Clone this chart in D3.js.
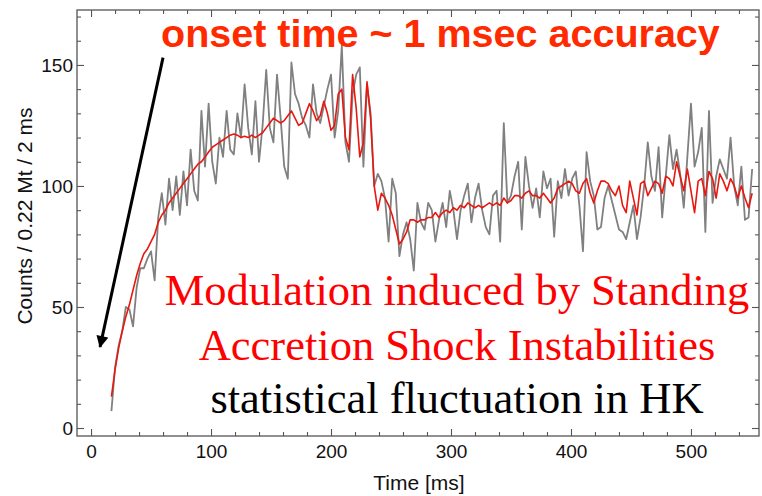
<!DOCTYPE html>
<html>
<head>
<meta charset="utf-8">
<script src="https://cdn.jsdelivr.net/npm/d3@7"></script>
<style>
body { margin: 0; background: #fff; }
</style>
</head>
<body>
<svg width="762" height="496"></svg>
<script>
// binned counts, first bin at 17 ms, one value every 3 ms
const binStart = 17;
const binWidth = 3;

const rawCounts = [
    7, 25, 34, 40, 50, 49, 42, 58, 66, 66,
    70, 73, 61, 87, 97, 84, 103, 90, 104, 88,
    106, 92, 115, 98, 94, 131, 108, 134, 110, 101,
    120, 112, 131, 115, 113, 130, 120, 142, 124, 113,
    135, 110, 125, 148, 124, 118, 146, 128, 108, 103,
    151, 138, 134, 128, 125, 120, 142, 130, 126, 133,
    140, 146, 120, 131, 158, 118, 110, 138, 146, 149,
    108, 142, 130, 100, 105, 102, 95, 77, 103, 97,
    71, 80, 85, 78, 65, 93, 85, 82, 93, 90,
    77, 86, 93, 83, 98, 90, 78, 90, 96, 101,
    85, 95, 101, 90, 83, 80, 96, 98, 77, 126,
    93, 96, 104, 110, 82, 112, 100, 91, 99, 87,
    106, 99, 103, 79, 102, 95, 107, 96, 103, 106,
    92, 73, 114, 102, 96, 82, 83, 95, 100, 94,
    88, 82, 81, 78, 85, 92, 78, 87, 100, 118,
    104, 98, 116, 87, 104, 121, 107, 115, 105, 91,
    112, 134, 108, 114, 124, 81, 131, 93, 104, 111,
    107, 103, 120, 100, 92, 108, 86, 87, 107
];

const modelCounts = [
    13, 24, 33, 40, 46, 51, 57, 63, 68, 72,
    74, 77, 80, 85, 88, 90, 93, 95, 97, 99,
    101, 103, 105, 107, 109, 110, 112, 114, 116, 117,
    118, 119, 120, 121, 121.5, 121, 120, 120.5, 120, 121,
    120, 121, 122, 124, 126, 128, 127, 126, 127, 129,
    131, 128, 125, 126, 130, 134, 131, 127, 129, 135,
    130, 123, 125, 138, 140, 120, 115, 146, 132, 112,
    118, 143, 128, 100, 90, 97, 95, 92, 88, 82,
    76, 78, 81, 86, 86, 85, 86, 86, 87, 87,
    89, 87, 89, 90, 89, 91, 90, 92, 91, 93,
    92, 91, 92, 91, 92, 93, 92, 93, 92, 95,
    93, 94, 96, 96, 95, 97, 98, 96, 96, 95,
    97, 95, 93, 95, 99, 100, 101, 102, 101, 98,
    97, 101, 103, 97, 93, 98, 102, 102, 101, 98,
    96, 100, 92, 89, 102, 95, 88, 101, 102, 96,
    99, 102, 101, 97, 104, 103, 100, 110, 104, 98,
    107, 98, 89, 102, 103, 96, 106, 103, 95, 105,
    102, 98, 103, 100, 95, 100, 95, 91, 97
];

const xMajorTicks = [0, 100, 200, 300, 400, 500];
const xMinorTicks = [20, 40, 60, 80, 120, 140, 160, 180, 220, 240, 260, 280,
    320, 340, 360, 380, 420, 440, 460, 480, 520, 540];
const yMajorTicks = [0, 50, 100, 150];
const yMinorTicks = [10, 20, 30, 40, 60, 70, 80, 90, 110, 120, 130, 140, 160, 170];

const svg = d3.select('svg');
const width = +svg.attr('width');
const height = +svg.attr('height');
const margin = {top: 10, right: 3, bottom: 60, left: 77};
const innerWidth = width - margin.left - margin.right;
const innerHeight = height - margin.top - margin.bottom;

const sansFont = "'Liberation Sans', Arial, sans-serif";
const serifFont = "'Liberation Serif', 'Times New Roman', serif";
const frameColor = '#555';

const xScale = d3.scaleLinear()
    .domain([-11.7, 556.7])
    .range([0, innerWidth]);

const yScale = d3.scaleLinear()
    .domain([-3.3, 172.7])
    .range([innerHeight, 0]);

const g = svg.append('g')
    .attr('transform', `translate(${margin.left}, ${margin.top})`);

// ticks all point inwards, like a mathematica frame
const addAxis = (axis, transform, cls, labelled) => {
    const a = g.append('g')
        .attr('class', cls)
        .attr('transform', transform)
        .call(axis)
        .attr('font-family', sansFont)
        .attr('font-size', 19);
    a.select('.domain').remove();
    a.selectAll('line').attr('stroke', frameColor).attr('stroke-width', 1.1);
    if (labelled) {
        a.selectAll('text').attr('fill', '#111');
    } else {
        a.selectAll('text').remove();
    }
    return a;
};

addAxis(d3.axisBottom(xScale).tickValues(xMajorTicks).tickSize(-7).tickPadding(8.5),
    `translate(0, ${innerHeight})`, 'x-axis', true);
addAxis(d3.axisBottom(xScale).tickValues(xMinorTicks).tickSize(-4),
    `translate(0, ${innerHeight})`, 'x-minor', false);
addAxis(d3.axisTop(xScale).tickValues(xMajorTicks).tickSize(-7),
    'translate(0, 0)', 'x-top', false);
addAxis(d3.axisTop(xScale).tickValues(xMinorTicks).tickSize(-4),
    'translate(0, 0)', 'x-top-minor', false);

addAxis(d3.axisLeft(yScale).tickValues(yMajorTicks).tickSize(-7).tickPadding(4),
    'translate(0, 0)', 'y-axis', true);
addAxis(d3.axisLeft(yScale).tickValues(yMinorTicks).tickSize(-4),
    'translate(0, 0)', 'y-minor', false);
addAxis(d3.axisRight(yScale).tickValues(yMajorTicks).tickSize(-7),
    `translate(${innerWidth}, 0)`, 'y-right', false);
addAxis(d3.axisRight(yScale).tickValues(yMinorTicks).tickSize(-4),
    `translate(${innerWidth}, 0)`, 'y-right-minor', false);

g.append('rect')
    .attr('width', innerWidth)
    .attr('height', innerHeight)
    .attr('fill', 'none')
    .attr('stroke', frameColor)
    .attr('stroke-width', 1.3);

// axis labels
svg.append('text')
    .attr('class', 'axis-label')
    .attr('x', margin.left + 342)
    .attr('y', margin.top + innerHeight + 54)
    .attr('text-anchor', 'middle')
    .attr('fill', '#111')
    .attr('font-family', sansFont)
    .attr('font-size', 21)
    .text('Time [ms]');

svg.append('text')
    .attr('class', 'axis-label')
    .attr('transform', 'rotate(-90)')
    .attr('x', -(margin.top + 206))
    .attr('y', margin.left - 45)
    .attr('text-anchor', 'middle')
    .attr('fill', '#111')
    .attr('font-family', sansFont)
    .attr('font-size', 21)
    .text('Counts / 0.22 Mt / 2 ms');

const timeOf = i => binStart + i * binWidth;

const line = d3.line()
    .x((d, i) => xScale(timeOf(i)))
    .y(d => yScale(d));

g.append('path')
    .datum(rawCounts)
    .attr('d', line)
    .attr('fill', 'none')
    .attr('stroke', '#808080')
    .attr('stroke-width', 1.8)
    .attr('stroke-linejoin', 'round');

g.append('path')
    .datum(modelCounts)
    .attr('d', line)
    .attr('fill', 'none')
    .attr('stroke', '#e8170f')
    .attr('stroke-width', 1.6)
    .attr('stroke-linejoin', 'round');

// annotations
svg.append('defs').append('marker')
    .attr('id', 'arrowhead')
    .attr('viewBox', '0 0 10 10')
    .attr('refX', 9)
    .attr('refY', 5)
    .attr('markerWidth', 4.5)
    .attr('markerHeight', 4)
    .attr('markerUnits', 'strokeWidth')
    .attr('orient', 'auto')
  .append('path')
    .attr('d', 'M0,0 L10,5 L0,10 Z')
    .attr('fill', '#000');

g.append('line')
    .attr('x1', xScale(60))
    .attr('y1', yScale(153))
    .attr('x2', xScale(7.5))
    .attr('y2', yScale(33.5))
    .attr('stroke', '#000')
    .attr('stroke-width', 3)
    .attr('marker-end', 'url(#arrowhead)');

svg.append('text')
    .attr('x', 161)
    .attr('y', 47)
    .attr('fill', '#ff2a00')
    .attr('font-family', sansFont)
    .attr('font-size', 39.5)
    .attr('font-weight', 'bold')
    .text('onset time ~ 1 msec accuracy');

const noteLines = [
    {text: 'Modulation induced by Standing', color: '#ff0000', y: 305},
    {text: 'Accretion Shock Instabilities', color: '#ff0000', y: 360},
    {text: 'statistical fluctuation in HK', color: '#000000', y: 413}
];

svg.selectAll('.note').data(noteLines)
    .enter().append('text')
        .attr('class', 'note')
        .attr('x', 457)
        .attr('y', d => d.y)
        .attr('text-anchor', 'middle')
        .attr('fill', d => d.color)
        .attr('font-family', serifFont)
        .attr('font-size', 44.5)
        .text(d => d.text);
</script>
</body>
</html>
